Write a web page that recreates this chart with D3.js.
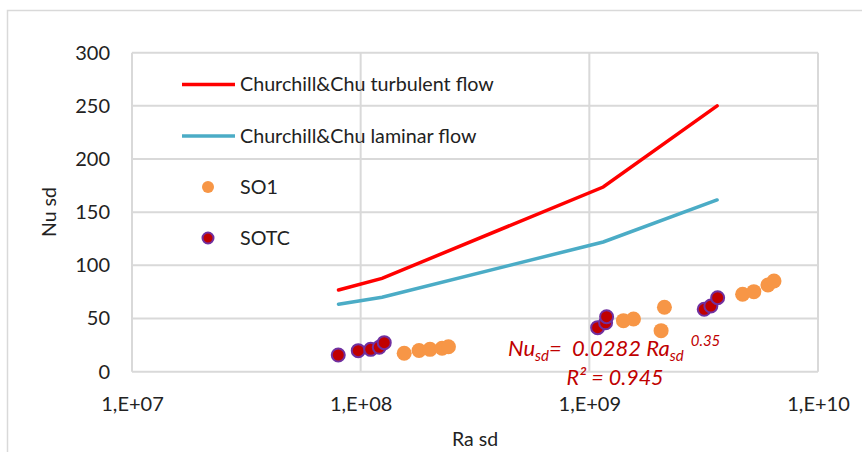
<!DOCTYPE html>
<html>
<head>
<meta charset="utf-8">
<script src="https://cdn.jsdelivr.net/npm/d3@7"></script>
<style>
  body { margin: 0; background: #fff; }
  text { font-family: Lato, "Noto Sans", sans-serif; fill: #222; }
</style>
</head>
<body>
<div id="root"></div>
<script>
const width = 862
const height = 452

// data
const xTicks = [1e7, 1e8, 1e9, 1e10]
const xTickLabels = ['1,E+07', '1,E+08', '1,E+09', '1,E+10']
const yTicks = [0, 50, 100, 150, 200, 250, 300]

const turbRa = [8.0e7, 1.24e8, 1.15e9, 3.62e9]
const turbNu = [76.8, 87.8, 173.7, 250]
const lamRa = [8.0e7, 1.24e8, 1.15e9, 3.62e9]
const lamNu = [63.4, 70, 122, 161.5]

const so1Ra = [1.55e8, 1.80e8, 2.01e8, 2.27e8, 2.42e8, 1.41e9, 1.56e9, 2.06e9, 2.13e9, 4.68e9, 5.24e9, 6.04e9, 6.42e9]
const so1Nu = [17.3, 20, 21, 22, 23.5, 48, 49.6, 38.6, 60.6, 72.8, 75.3, 81.5, 85.3]
const sotcRa = [7.98e7, 9.76e7, 1.106e8, 1.206e8, 1.268e8, 1.087e9, 1.178e9, 1.19e9, 3.18e9, 3.40e9, 3.64e9]
const sotcNu = [15.7, 19.8, 21, 23, 27.3, 41.4, 46, 51.7, 58.7, 61.8, 69.6]

const seriesNames = ['Churchill&Chu turbulent flow', 'Churchill&Chu laminar flow', 'SO1', 'SOTC']

const svg = d3.select('#root').append('svg')
  .attr('width', width)
  .attr('height', height)

// chart border
svg.append('rect')
  .attr('x', 7.5).attr('y', 10.5)
  .attr('width', 870).attr('height', 460)
  .attr('fill', '#fff')
  .attr('stroke', '#d9d9d9')
  .attr('stroke-width', 1.5)

const x = d3.scaleLog().domain([1e7, 1e10]).range([132, 818])
const y = d3.scaleLinear().domain([0, 300]).range([371.7, 52.7])

// gridlines
svg.append('g').selectAll('line')
  .data(yTicks)
  .enter().append('line')
    .attr('x1', x(1e7)).attr('x2', x(1e10))
    .attr('y1', d => y(d)).attr('y2', d => y(d))
    .attr('stroke', '#d9d9d9').attr('stroke-width', 2)

svg.append('g').selectAll('line')
  .data(xTicks)
  .enter().append('line')
    .attr('x1', d => x(d)).attr('x2', d => x(d))
    .attr('y1', y(0)).attr('y2', y(300))
    .attr('stroke', '#d9d9d9').attr('stroke-width', 2)

// axes (labels only)
const yAxis = svg.append('g')
  .attr('transform', 'translate(110,0)')
  .call(d3.axisLeft(y).tickValues(yTicks).tickSize(0).tickPadding(0))
yAxis.select('.domain').remove()
yAxis.selectAll('text')
  .style('font-size', '20px')
  .style('font-family', 'Lato, sans-serif')
  .attr('fill', '#222')

const xAxis = svg.append('g')
  .attr('transform', `translate(0,${y(0) + 25})`)
  .call(d3.axisBottom(x).tickValues(xTicks).tickFormat((d, i) => xTickLabels[i]).tickSize(0).tickPadding(0))
xAxis.select('.domain').remove()
xAxis.selectAll('text')
  .style('font-size', '20px')
  .style('font-family', 'Lato, sans-serif')
  .attr('fill', '#222')

// axis titles
svg.append('text')
  .attr('x', 475).attr('y', 446)
  .attr('text-anchor', 'middle')
  .style('font-size', '19.5px')
  .text('Ra sd')

svg.append('text')
  .attr('transform', 'translate(56,212) rotate(-90)')
  .attr('text-anchor', 'middle')
  .style('font-size', '19.5px')
  .text('Nu sd')

// lines
const line = d3.line()
  .x(d => x(d[0]))
  .y(d => y(d[1]))

svg.append('path')
  .datum(lamRa.map((r, i) => [r, lamNu[i]]))
  .attr('d', line)
  .attr('fill', 'none')
  .attr('stroke', '#4bacc6')
  .attr('stroke-width', 3.5)
  .attr('stroke-linecap', 'round')

svg.append('path')
  .datum(turbRa.map((r, i) => [r, turbNu[i]]))
  .attr('d', line)
  .attr('fill', 'none')
  .attr('stroke', '#ff0000')
  .attr('stroke-width', 3.5)
  .attr('stroke-linecap', 'round')

// scatter
svg.append('g').selectAll('circle')
  .data(so1Ra.map((r, i) => [r, so1Nu[i]]))
  .enter().append('circle')
    .attr('cx', d => x(d[0]))
    .attr('cy', d => y(d[1]))
    .attr('r', 7.5)
    .attr('fill', '#f79646')

svg.append('g').selectAll('circle')
  .data(sotcRa.map((r, i) => [r, sotcNu[i]]))
  .enter().append('circle')
    .attr('cx', d => x(d[0]))
    .attr('cy', d => y(d[1]))
    .attr('r', 6.5)
    .attr('fill', '#c00000')
    .attr('stroke', '#7030a0')
    .attr('stroke-width', 2)

// legend
const legend = svg.append('g')
const legY = [84.5, 136, 187, 238]

legend.append('line')
  .attr('x1', 182).attr('x2', 235).attr('y1', legY[0]).attr('y2', legY[0])
  .attr('stroke', '#ff0000').attr('stroke-width', 3.5)
legend.append('line')
  .attr('x1', 182).attr('x2', 235).attr('y1', legY[1]).attr('y2', legY[1])
  .attr('stroke', '#4bacc6').attr('stroke-width', 3.5)
legend.append('circle')
  .attr('cx', 208).attr('cy', legY[2]).attr('r', 6)
  .attr('fill', '#f79646')
legend.append('circle')
  .attr('cx', 208).attr('cy', legY[3]).attr('r', 5.5)
  .attr('fill', '#c00000').attr('stroke', '#7030a0').attr('stroke-width', 2)

legend.selectAll('text')
  .data(seriesNames)
  .enter().append('text')
    .attr('x', 240)
    .attr('y', (d, i) => legY[i])
    .attr('dy', '0.35em')
    .style('font-size', '19.7px')
    .text(d => d)

// trendline equation
const eq = svg.append('text')
  .attr('x', 508).attr('y', 356)
  .style('font-size', '22px')
  .style('font-style', 'italic')
  .style('fill', '#c00000')
eq.append('tspan').text('Nu')
eq.append('tspan').attr('dy', 5).style('font-size', '15px').text('sd')
eq.append('tspan').attr('dy', -5).text('=\u00a0\u00a00.0282 Ra')
eq.append('tspan').attr('dy', 5).style('font-size', '15px').text('sd')
eq.append('tspan').attr('dy', -15).style('font-size', '15px').text('\u00a0\u00a00.35')

svg.append('text')
  .attr('x', 615).attr('y', 385)
  .attr('text-anchor', 'middle')
  .style('font-size', '21.5px')
  .style('font-style', 'italic')
  .style('fill', '#c00000')
  .text('R² = 0.945')
</script>
</body>
</html>
